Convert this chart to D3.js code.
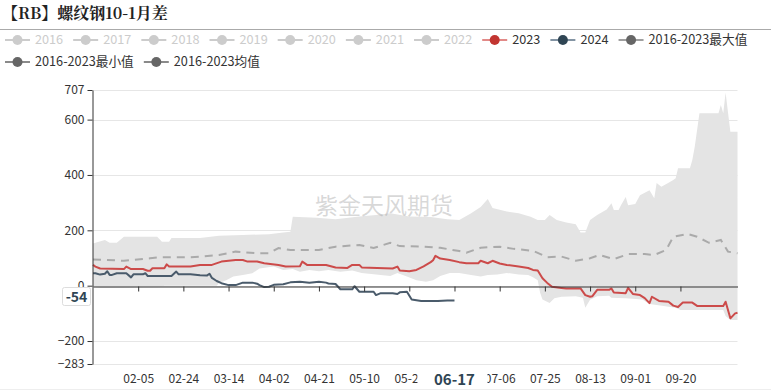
<!DOCTYPE html>
<html><head><meta charset="utf-8">
<script src="https://cdn.jsdelivr.net/npm/d3@7"></script>
<style>body{margin:0;background:#fff}svg{display:block}</style>
</head><body><svg id="c" width="771" height="391"></svg>
<script>
const titleText = "【RB】螺纹钢10-1月差";
const watermarkText = "紫金天风期货";
const legendNames = ["2016","2017","2018","2019","2020","2021","2022","2023","2024","2016-2023最大值","2016-2023最小值","2016-2023均值"];
const legendActive = [false,false,false,false,false,false,false,true,true,true,true,true];
const xDomain = ["01-17","10-14"];
const xTickLabels = ["02-05","02-24","03-14","04-02","04-21","05-10","05-29","06-17","07-06","07-25","08-13","09-01","09-20"];
const yTickValues = [707,600,400,200,0,-200,-283];
const pointerDate = "06-17";
const pointerValue = -54;

const series2023 = [["01-17",75],["01-18",69],["01-20",62],["01-30",60],["01-31",69],["02-02",60],["02-07",60],["02-09",54],["02-10",54],["02-11",63],["02-16",63],["02-17",77],["02-18",69],["02-27",69],["03-02",75],["03-07",75],["03-11",87],["03-17",93],["03-20",93],["03-22",87],["03-26",87],["03-29",81],["04-04",75],["04-07",69],["04-13",70],["04-14",87],["04-16",75],["04-24",75],["04-28",66],["05-03",64],["05-05",75],["05-08",75],["05-09",66],["05-22",62],["05-24",69],["05-25",55],["05-29",52],["06-01",57],["06-04",70],["06-07",85],["06-08",92],["06-09",108],["06-11",98],["06-15",93],["06-19",85],["06-22",81],["06-27",81],["06-28",90],["07-01",81],["07-03",90],["07-06",80],["07-09",75],["07-14",69],["07-18",64],["07-20",57],["07-22",55],["07-24",27],["07-26",10],["07-28",-4],["08-01",-8],["08-03",-10],["08-09",-10],["08-11",-34],["08-13",-40],["08-14",-38],["08-16",-15],["08-21",-15],["08-22",-10],["08-23",-25],["08-28",-27],["08-29",-8],["08-31",-30],["09-03",-34],["09-05",-45],["09-07",-63],["09-08",-40],["09-11",-55],["09-15",-58],["09-17",-72],["09-19",-77],["09-21",-61],["09-25",-61],["09-27",-73],["10-08",-73],["10-09",-58],["10-11",-118],["10-13",-100],["10-14",-98]];

const series2024 = [["01-17",45],["01-18",45],["01-20",40],["01-22",43],["01-23",52],["01-24",39],["01-25",39],["01-27",45],["01-31",45],["02-02",30],["02-03",41],["02-07",41],["02-08",45],["02-09",35],["02-19",35],["02-21",51],["02-22",41],["02-27",41],["03-02",38],["03-05",37],["03-06",43],["03-07",28],["03-09",17],["03-11",9],["03-14",2],["03-17",2],["03-20",11],["03-24",11],["03-26",7],["03-27",2],["03-29",-5],["03-31",-4],["04-02",3],["04-06",5],["04-09",12],["04-13",14],["04-17",11],["04-21",14],["04-24",11],["04-25",8],["04-28",6],["04-30",-13],["05-05",-13],["05-06",-2],["05-08",-22],["05-14",-22],["05-15",-34],["05-17",-27],["05-22",-27],["05-24",-30],["05-25",-24],["05-28",-22],["05-30",-50],["06-03",-55],["06-10",-55],["06-14",-54],["06-17",-54]];

const seriesMax = [["01-17",152],["01-18",155],["01-22",165],["01-24",155],["01-27",155],["01-30",177],["02-13",177],["02-15",159],["02-18",159],["02-19",172],["03-02",172],["03-10",180],["03-20",183],["03-31",186],["04-06",192],["04-09",195],["04-10",249],["04-20",245],["04-28",240],["05-08",250],["05-15",255],["05-21",262],["05-29",250],["06-07",248],["06-14",240],["06-19",237],["06-24",262],["06-28",284],["07-01",313],["07-03",281],["07-09",268],["07-14",262],["07-19",249],["07-22",237],["07-25",237],["07-27",255],["07-30",237],["08-03",228],["08-07",222],["08-09",192],["08-11",192],["08-13",237],["08-16",255],["08-20",275],["08-22",298],["08-23",273],["08-25",273],["08-26",291],["08-28",320],["08-29",291],["09-01",295],["09-03",327],["09-07",345],["09-09",316],["09-10",371],["09-12",357],["09-15",372],["09-17",382],["09-18",388],["09-19",424],["09-24",424],["09-25",454],["09-26",501],["09-27",562],["09-28",623],["10-06",623],["10-07",653],["10-08",623],["10-09",697],["10-11",556],["10-14",556]];

const seriesMin = [["01-17",-5],["01-20",-8],["01-24",-8],["02-14",-6],["02-16",0],["03-09",0],["03-10",10],["03-13",20],["03-16",33],["03-20",39],["03-24",45],["03-27",62],["04-02",69],["04-06",57],["04-10",60],["04-13",50],["04-17",57],["04-21",52],["04-25",57],["04-30",50],["05-05",55],["05-09",46],["05-15",40],["05-21",35],["05-24",46],["05-28",33],["06-01",20],["06-05",14],["06-08",20],["06-11",35],["06-15",46],["06-19",46],["06-24",39],["06-28",33],["07-01",39],["07-05",40],["07-09",46],["07-14",40],["07-18",39],["07-20",30],["07-22",20],["07-23",-26],["07-24",-50],["07-27",-63],["07-29",-45],["08-01",-40],["08-07",-38],["08-10",-44],["08-11",-80],["08-13",-51],["08-16",-38],["08-21",-36],["08-22",-44],["08-28",-45],["09-04",-50],["09-07",-66],["09-10",-70],["09-18",-80],["09-20",-88],["10-08",-88],["10-09",-110],["10-11",-124],["10-14",-124]];

const seriesMean = [["01-17",95],["01-30",90],["02-10",99],["02-14",103],["02-27",103],["03-02",105],["03-10",111],["03-17",123],["03-26",117],["03-31",117],["04-04",136],["04-09",129],["04-21",129],["04-28",141],["05-08",147],["05-14",136],["05-21",155],["05-25",143],["06-04",141],["06-11",137],["06-19",125],["06-22",119],["06-28",137],["07-06",141],["07-12",133],["07-20",126],["07-26",103],["08-01",105],["08-07",90],["08-13",99],["08-17",111],["08-23",96],["08-29",114],["09-05",114],["09-09",111],["09-14",129],["09-17",177],["09-23",187],["09-27",177],["10-02",155],["10-07",165],["10-10",123],["10-14",117]];

const FONT = "'Microsoft YaHei','Noto Sans CJK SC','Noto Sans',sans-serif";
const parse = s => d3.timeParse("%Y-%m-%d")("2024-" + s);
const svg = d3.select("#c");
const L = 93, R = 737.5, T = 90, B = 364;
const x = d3.scaleTime().domain(xDomain.map(parse)).range([L, R]);
const y = d3.scaleLinear().domain([-283, 707]).range([B, T]);
const line = d3.line().x(d => x(parse(d[0]))).y(d => y(d[1]));

const colors = {c2023:"#cc4b4a", c2024:"#4a5b6b", mean:"#aaaaaa", band:"#e4e4e4", ptr:"#2f4554"};

// title
svg.append("text").attr("x", 2).attr("y", 19).text(titleText)
  .attr("font-family", "'Noto Serif CJK SC','Noto Sans CJK SC',serif").attr("font-weight", "bold")
  .attr("font-size", 16).attr("fill", "#222");
svg.append("line").attr("x1", 0).attr("x2", 771).attr("y1", 29.5).attr("y2", 29.5).attr("stroke", "#aaa");
svg.append("line").attr("x1", 0).attr("x2", 771).attr("y1", 389.5).attr("y2", 389.5).attr("stroke", "#eeeeee");

// grid
svg.append("g").selectAll("line").data(yTickValues).join("line")
  .attr("x1", L).attr("x2", R).attr("y1", d => Math.round(y(d)) + 0.5).attr("y2", d => Math.round(y(d)) + 0.5)
  .attr("stroke", "#e6e6e6");

// band
const bandPts = seriesMax.concat(seriesMin.slice().reverse());
svg.append("path").attr("d", line(bandPts) + "Z").attr("fill", colors.band);

// watermark
svg.append("text").attr("x", 315).attr("y", 214).text(watermarkText)
  .attr("font-family", FONT).attr("font-size", 23).attr("fill", "#999").attr("fill-opacity", 0.38);

// lines
svg.append("path").attr("d", line(seriesMean)).attr("fill", "none").attr("stroke", colors.mean)
  .attr("stroke-width", 2).attr("stroke-dasharray", "8,6");
svg.append("path").attr("d", line(series2023)).attr("fill", "none").attr("stroke", colors.c2023)
  .attr("stroke-width", 2).attr("stroke-linejoin", "round");
svg.append("path").attr("d", line(series2024)).attr("fill", "none").attr("stroke", colors.c2024)
  .attr("stroke-width", 2).attr("stroke-linejoin", "round");

// axes
const yAxis = svg.append("g").attr("transform", `translate(${L - 0.5},0)`)
  .call(d3.axisLeft(y).tickValues(yTickValues).tickSize(5).tickSizeOuter(0).tickPadding(3).tickFormat(d3.format("d")));
const xAxis = svg.append("g").attr("transform", `translate(0,${Math.round(y(0)) + 0.5})`)
  .call(d3.axisBottom(x).tickValues(xTickLabels.map(parse)).tickSize(5).tickSizeOuter(0).tickPadding(83)
    .tickFormat(d => { const s = d3.timeFormat("%m-%d")(d); return s === pointerDate ? "" : s; }));
[yAxis, xAxis].forEach(g => {
  g.select(".domain").attr("stroke", "#333");
  g.selectAll(".tick line").attr("stroke", "#333");
  g.selectAll(".tick text").attr("fill", "#333").attr("font-family", FONT).attr("font-size", 12);
});

// axis pointer labels
const px = x(parse(pointerDate));
svg.append("rect").attr("x", px - 37).attr("y", 368).attr("width", 70).attr("height", 21).attr("fill", "#fff");
svg.append("text").attr("x", px).attr("y", 380).attr("dy", "0.35em").attr("text-anchor", "middle")
  .text(pointerDate).attr("font-family", FONT).attr("font-weight", "bold").attr("font-size", 15).attr("fill", colors.ptr);
svg.append("rect").attr("x", 62.5).attr("y", 287.5).attr("width", 28).attr("height", 18).attr("rx", 2)
  .attr("fill", "#fff").attr("stroke", "#ddd");
svg.append("text").attr("x", 76.5).attr("y", 297).attr("dy", "0.35em").attr("text-anchor", "middle")
  .text(String(pointerValue)).attr("font-family", FONT).attr("font-weight", "bold").attr("font-size", 14).attr("fill", colors.ptr);

// legend
const legendStyle = [
  ...Array(7).fill({line:"#ccc", dot:"#ccc"}),
  {line:"#e28a88", dot:"#c23531"},
  {line:"#8394a3", dot:"#2f4554"},
  {line:"#a0a0a0", dot:"#666"},
  {line:"#8a8a8a", dot:"#666"},
  {line:"#8a8a8a", dot:"#666"}
];
let lx = 5, ly = 40;
const lg = svg.append("g");
legendNames.forEach((name, i) => {
  const g = lg.append("g");
  const t = g.append("text").text(name).attr("font-family", FONT).attr("font-size", 12.7)
    .attr("fill", legendActive[i] ? "#333" : "#ccc").attr("dy", "0.35em");
  const tw = t.node().getComputedTextLength();
  if (lx + 30 + tw > 766) { lx = 5; ly += 22; }
  g.attr("transform", `translate(${lx},${ly})`);
  g.insert("line", "text").attr("x1", 0).attr("x2", 25).attr("y1", 0).attr("y2", 0)
    .attr("stroke", legendStyle[i].line).attr("stroke-width", 2);
  g.insert("circle", "text").attr("cx", 12.5).attr("cy", 0).attr("r", 5).attr("fill", legendStyle[i].dot);
  t.attr("x", 30);
  lx += 30 + tw + 10;
});
</script>
</body></html>
